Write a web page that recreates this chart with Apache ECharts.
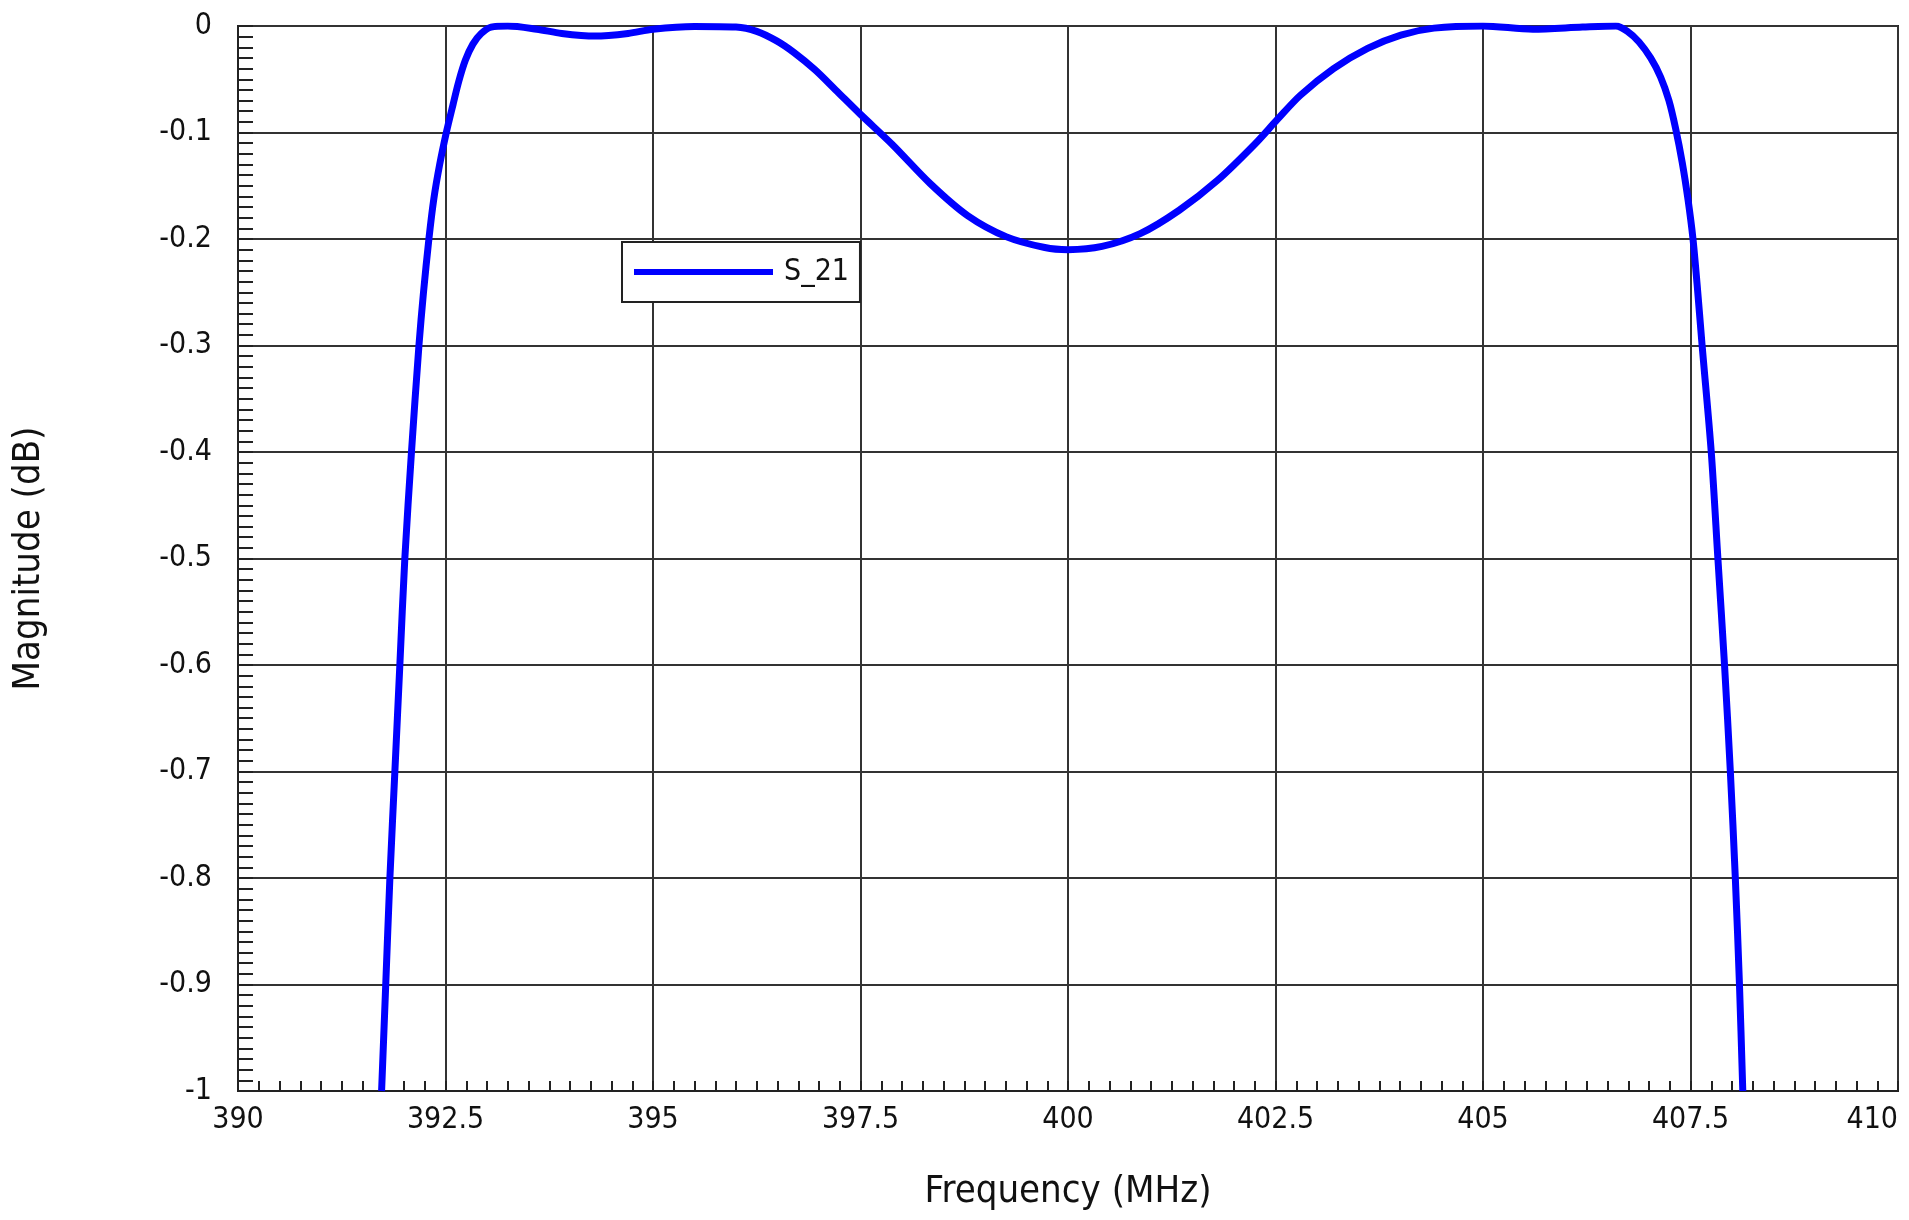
<!DOCTYPE html>
<html>
<head>
<meta charset="utf-8">
<title>S_21</title>
<script src="https://cdn.jsdelivr.net/npm/echarts@6/dist/echarts.min.js"></script>
<style>
    html, body { margin: 0; padding: 0; background: #fff; }
    #chart { width: 1909px; height: 1220px; }
</style>
</head>
<body>
<div id="chart"></div>
<script>
// frequency points (MHz)
const freqs = [
    391.73, 391.78, 391.83, 391.89, 391.95, 392.01, 392.09, 392.18, 392.235, 392.30,
    392.36, 392.43, 392.51, 392.59, 392.66, 392.74, 392.83, 392.93, 393.05, 393.25,
    393.60, 393.90, 394.30, 394.70, 395.00, 395.50, 396.00, 396.25, 396.49, 396.70,
    396.95, 397.20, 397.50, 397.88, 398.34, 398.79, 399.26, 399.72, 400.00, 400.41,
    400.87, 401.34, 401.80, 402.25, 402.52, 402.80, 403.20, 403.61, 404.01, 404.41,
    405.00, 405.60, 406.20, 406.60, 406.74, 406.88, 407.02, 407.14, 407.24, 407.32,
    407.40, 407.47, 407.53, 407.58, 407.64, 407.75, 407.83, 407.91, 407.98, 408.04,
    408.09, 408.13
]
// S_21 magnitude (dB)
const s21 = [
    -1.0, -0.9, -0.8, -0.7, -0.6, -0.5, -0.4, -0.3, -0.25, -0.2,
    -0.162, -0.13, -0.1, -0.074, -0.052, -0.032, -0.017, -0.007, -0.001, 0,
    -0.003, -0.007, -0.0095, -0.007, -0.003, -0.0005, -0.001, -0.005, -0.014, -0.025,
    -0.041, -0.06, -0.083, -0.111, -0.148, -0.178, -0.198, -0.208, -0.210, -0.207,
    -0.195, -0.173, -0.145, -0.111, -0.088, -0.065, -0.040, -0.021, -0.0085, -0.002,
    0, -0.003, -0.001, 0, -0.005, -0.015, -0.03, -0.048, -0.07, -0.096,
    -0.128, -0.163, -0.2, -0.243, -0.3, -0.4, -0.5, -0.6, -0.7, -0.8,
    -0.9, -1.0
]

const xMin = 390, xMax = 410, xStep = 2.5
const yMin = -1, yMax = 0, yStep = 0.1

const font = "'Liberation Sans Narrow', 'DejaVu Sans Condensed', 'Roboto', sans-serif"

const chart = echarts.init(document.getElementById('chart'))

chart.setOption({
    animation: false,
    backgroundColor: '#fff',
    grid: {
        left: 238,
        right: 11,
        top: 26,
        bottom: 129,
        show: true,
        borderColor: '#222',
        borderWidth: 2,
        backgroundColor: 'transparent'
    },
    legend: {
        left: 622,
        top: 242,
        padding: [15, 11, 15, 12],
        backgroundColor: '#fff',
        borderColor: '#222',
        borderWidth: 2,
        borderRadius: 0,
        icon: 'rect',
        itemWidth: 139,
        itemHeight: 6,
        textStyle: { fontFamily: font, fontSize: 30, color: '#111', padding: [0, 0, 0, 6] },
        data: ['S_21']
    },
    xAxis: {
        type: 'value',
        min: xMin,
        max: xMax,
        interval: xStep,
        name: 'Frequency (MHz)',
        nameLocation: 'middle',
        nameGap: 82,
        nameTextStyle: { fontFamily: font, fontSize: 38, color: '#111' },
        axisLine: { show: true, onZero: false, lineStyle: { color: '#222', width: 2 } },
        axisTick: { show: true, inside: true, length: 10, lineStyle: { color: '#222', width: 2 } },
        minorTick: { show: true, splitNumber: 10, length: 10, lineStyle: { color: '#222', width: 2 } },
        axisLabel: {
            margin: 14,
            fontFamily: font,
            fontSize: 30,
            color: '#111',
            alignMaxLabel: 'right'
        },
        splitLine: { show: true, lineStyle: { color: '#333', width: 2 } }
    },
    yAxis: {
        type: 'value',
        min: yMin,
        max: yMax,
        interval: yStep,
        name: 'Magnitude (dB)',
        nameLocation: 'middle',
        nameGap: 190,
        nameRotate: 90,
        nameTextStyle: { fontFamily: font, fontSize: 38, color: '#111' },
        axisLine: { show: true, onZero: false, lineStyle: { color: '#222', width: 2 } },
        axisTick: { show: true, inside: true, length: 15, lineStyle: { color: '#222', width: 2 } },
        minorTick: { show: true, splitNumber: 10, length: 15, lineStyle: { color: '#222', width: 2 } },
        axisLabel: {
            margin: 26,
            fontFamily: font,
            fontSize: 30,
            color: '#111',
            formatter: v => (Math.round(v * 10) / 10).toString()
        },
        splitLine: { show: true, lineStyle: { color: '#333', width: 2 } }
    },
    series: [
        {
            name: 'S_21',
            type: 'line',
            data: freqs.map((f, i) => [f, s21[i]]),
            showSymbol: false,
            smooth: 0.3,
            clip: true,
            lineStyle: { color: '#0000ff', width: 7 },
            itemStyle: { color: '#0000ff' }
        }
    ]
})
</script>
</body>
</html>
